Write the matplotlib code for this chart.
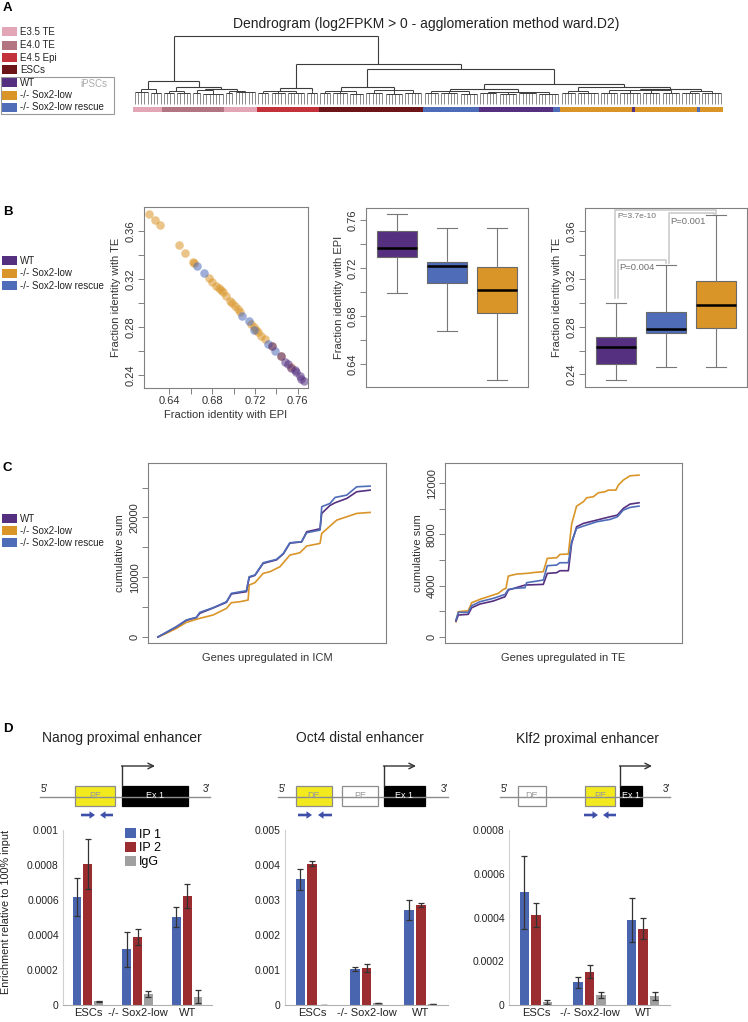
#Multi-panel figure: dendrogram, identity fractions, cumulative sums, ChIP-qPCR
#
import matplotlib
matplotlib.use('Agg')
import matplotlib.pyplot as plt
from matplotlib.patches import Rectangle, FancyArrow
import numpy as np

plt.rcParams['font.family'] = ['Liberation Sans', 'DejaVu Sans']

W, H = 748, 1022

# colours
c_e35 = '#E2A6B7'
c_e40 = '#B47582'
c_e45 = '#C3313A'
c_esc = '#6B1519'
c_wt = '#553080'
c_low = '#D99528'
c_res = '#4E6CB8'
c_ip1 = '#4A65B0'
c_ip2 = '#9B2D30'
c_igg = '#A0A0A0'

# ---------------- panel A data
legA_labels = ['E3.5 TE', 'E4.0 TE', 'E4.5 Epi', 'ESCs', 'WT', '-/- Sox2-low', '-/- Sox2-low rescue']
legA_colors = [c_e35, c_e40, c_e45, c_esc, c_wt, c_low, c_res]

# leaf colour bar (left to right): sample type, number of leaves
seg_colors = [c_e35, c_e40, c_e35, c_e45, c_esc, c_res, c_wt, c_res, c_low, c_wt, c_low, c_res, c_low]
seg_counts = [9, 19, 10, 19, 32, 17, 23, 2, 22, 1, 19, 1, 7]

# tree: internal node = (height, left, right); leaf group = (height, sub-group sizes, sub-group heights)
pink1 = (15, [5, 4], [12, 11])
mauve_a = (13, [4, 5], [11, 10.5])
mauve_b = (14, [3, 7], [11, 10])
pink2 = (13, [3, 7], [10.5, 11.5])
red = (16, (12.5, [4, 5, 6], [11, 10.5, 11]), (13, [4], [11]))
darkred = (17, (13, [4, 5, 5], [11, 10.5, 10]), (13.5, [6, 6, 6], [11, 10, 10.5]))
bluepurple = (15, (12.5, [5, 6, 6], [11, 10.5, 10]), (12, [6, 6, 6, 7], [10.5, 10, 10.5, 10]))
orange = (16.5, (13, [5, 7], [11, 10.5]), (15, (13.5, [6, 7, 6, 6], [11, 10.5, 11, 10.5]), (13, [6, 7], [11, 10.5])))
tree = (68, (23, pink1, (17, mauve_a, (15, mauve_b, pink2))),
        (40, red, (35, darkred, (20, bluepurple, orange))))

# ---------------- panel B data
grp_labels = ['WT', '-/- Sox2-low', '-/- Sox2-low rescue']
sc_low_x = [0.621, 0.627, 0.631, 0.649, 0.655, 0.662, 0.663, 0.677, 0.680, 0.684, 0.686, 0.688, 0.690,
            0.693, 0.697, 0.699, 0.701, 0.704, 0.706, 0.716, 0.719, 0.721, 0.723, 0.726, 0.729, 0.736,
            0.744, 0.754]
sc_low_y = [0.374, 0.369, 0.365, 0.348, 0.342, 0.334, 0.333, 0.321, 0.318, 0.314, 0.313, 0.311, 0.309,
            0.306, 0.302, 0.300, 0.298, 0.295, 0.293, 0.283, 0.280, 0.278, 0.276, 0.273, 0.270, 0.264,
            0.256, 0.247]
sc_res_x = [0.666, 0.672, 0.708, 0.714, 0.719, 0.732, 0.739]
sc_res_y = [0.331, 0.325, 0.289, 0.285, 0.278, 0.266, 0.260]
sc_wt_x = [0.736, 0.744, 0.748, 0.751, 0.754, 0.757, 0.758, 0.762, 0.763, 0.766]
sc_wt_y = [0.264, 0.256, 0.251, 0.249, 0.246, 0.244, 0.243, 0.239, 0.237, 0.235]

# box stats, order WT, rescue, Sox2-low
epi_lo = [0.699, 0.668, 0.627]
epi_q1 = [0.729, 0.708, 0.683]
epi_med = [0.737, 0.722, 0.702]
epi_q3 = [0.751, 0.725, 0.721]
epi_hi = [0.765, 0.753, 0.753]
te_lo = [0.235, 0.246, 0.246]
te_q1 = [0.249, 0.2745, 0.279]
te_med = [0.263, 0.278, 0.298]
te_q3 = [0.271, 0.2925, 0.318]
te_hi = [0.300, 0.332, 0.374]

# ---------------- panel C data (gene rank in %, cumulative sum)
icm_x_low = [0, 3.9, 8.7, 13.4, 19.7, 26.0, 32.3, 34.6, 38.6, 42.5, 43.0, 45.7, 49.6, 52.8, 57.5, 62.2,
             66.9, 70.1, 76.4, 77.2, 81.1, 84.3, 89.0, 93.7, 100]
icm_y_low = [0, 610, 1450, 2450, 3120, 3680, 4790, 5740, 5900, 6180, 8690, 9080, 10640, 10920, 11750,
             13700, 14090, 15210, 15650, 17320, 18550, 19550, 20110, 20670, 20830]
icm_x_res = [0, 3.9, 8.7, 13.4, 18.1, 19.7, 26.0, 32.3, 34.6, 41.7, 43.0, 45.7, 49.6, 55.9, 59.1, 62.2,
             67.7, 70.1, 76.4, 77.2, 81.1, 83.5, 89.0, 93.7, 100]
icm_y_res = [0, 780, 1730, 2840, 3290, 4120, 4900, 5900, 7300, 7740, 10080, 10360, 12420, 12980, 13980,
             15760, 15930, 17430, 17880, 21780, 22340, 23340, 23730, 25120, 25230]
icm_y_wt = [0, 760, 1700, 2800, 3250, 3960, 4850, 5800, 7200, 7580, 9970, 10300, 12310, 12900, 13900,
            15700, 15900, 17600, 18100, 20670, 22000, 22450, 23170, 24290, 24560]

te_x_low = [0, 1.3, 6.7, 8.6, 13.1, 18.6, 23.1, 25.9, 27.3, 28.6, 33.2, 38.6, 43.2, 47.7, 49.9, 55.0,
            56.8, 61.4, 63.2, 65.9, 69.6, 71.4, 75.0, 77.8, 81.4, 83.2, 87.4, 88.7, 91.4, 95.1, 100]
te_y_low = [1195, 1974, 2052, 2675, 2935, 3194, 3402, 3714, 3792, 4752, 4908, 4960, 5038, 5090, 6129,
            6181, 6440, 6467, 8804, 10206, 10544, 10856, 10933, 11245, 11323, 11453, 11453, 11842,
            12232, 12569, 12621]
te_x_res = [0, 1.3, 6.7, 8.6, 13.1, 20.4, 26.8, 28.6, 32.2, 37.7, 38.6, 47.7, 49.9, 55.0, 56.8, 61.4,
            63.2, 65.9, 69.6, 76.9, 84.2, 88.2, 91.4, 95.1, 100]
te_y_res = [1324, 1922, 1922, 2441, 2753, 3013, 3324, 3714, 3792, 3843, 4233, 4441, 5558, 5610, 5791,
            5791, 7427, 8466, 8648, 8986, 9167, 9375, 9894, 10102, 10206]
te_x_wt = [0, 1.3, 6.7, 8.6, 13.1, 20.4, 26.8, 28.6, 37.7, 47.7, 49.9, 55.0, 56.8, 61.4, 63.2, 65.9,
           69.6, 76.9, 84.2, 88.2, 91.4, 95.1, 100]
te_y_wt = [1247, 1714, 1766, 2285, 2571, 2805, 3142, 3662, 4051, 4103, 4960, 5012, 5168, 5168, 7297,
           8596, 8856, 9115, 9375, 9505, 10024, 10362, 10466]

# ---------------- panel D data
cells = ['ESCs', '-/- Sox2-low', 'WT']
nanog_ip1 = [0.000617, 0.000318, 0.000505]
nanog_ip1_err = [0.00011, 0.0001, 0.000057]
nanog_ip2 = [0.000806, 0.00039, 0.000623]
nanog_ip2_err = [0.000145, 0.000045, 0.00007]
nanog_igg = [0.000021, 0.000063, 0.000048]
nanog_igg_err = [0.000003, 0.000016, 0.000038]
oct4_ip1 = [0.00359, 0.00102, 0.00271]
oct4_ip1_err = [0.00029, 0.00006, 0.00029]
oct4_ip2 = [0.00404, 0.00105, 0.00286]
oct4_ip2_err = [0.00007, 0.00012, 0.00005]
oct4_igg = [0.0, 0.00005, 0.00002]
oct4_igg_err = [0, 0, 0]
klf2_ip1 = [0.000515, 0.000104, 0.000389]
klf2_ip1_err = [0.000167, 0.000026, 0.0001]
klf2_ip2 = [0.000413, 0.000152, 0.000349]
klf2_ip2_err = [0.000055, 0.00003, 0.000047]
klf2_igg = [0.000014, 0.000046, 0.000041]
klf2_igg_err = [0.000009, 0.000015, 0.000019]


fig = plt.figure(figsize=(W / 100, H / 100), dpi=100)

def px_axes(x0, y0, x1, y1):
    return fig.add_axes([x0 / W, 1 - y1 / H, (x1 - x0) / W, (y1 - y0) / H])

# overlay in pixel units for labels, legends and schematics
ov = fig.add_axes([0, 0, 1, 1])
ov.set_xlim(0, W)
ov.set_ylim(H, 0)
ov.axis('off')

for lab, yy in zip('ABCD', [8, 212, 468, 729]):
    ov.text(3, yy, lab, fontsize=9.5, fontweight='bold', va='center', ha='left')

def legend_rows(labels, colors, ys):
    for lab, c, yy in zip(labels, colors, ys):
        ov.add_patch(Rectangle((2, yy - 4.5), 15, 9, color=c, lw=0))
        ov.text(20, yy, lab, fontsize=7, va='center', ha='left', color='#222222')

legend_rows(legA_labels, legA_colors, [32, 45.5, 58, 70, 82.5, 95.5, 107.5])
ov.add_patch(Rectangle((1, 77), 113, 37, fill=False, edgecolor='#999999', lw=0.8))
ov.text(94, 84, 'iPSCs', fontsize=7, color='#AAAAAA', ha='center', va='center')
legend_rows(grp_labels, [c_wt, c_low, c_res], [261, 273.5, 286])
legend_rows(grp_labels, [c_wt, c_low, c_res], [518.5, 530.5, 543])

# ---------------- A: dendrogram
ov.text(426, 24, 'Dendrogram (log2FPKM > 0 - agglomeration method ward.D2)', fontsize=10,
        ha='center', va='center', color='#222222')
axA = px_axes(133, 30, 723, 115)
n_leaves = sum(seg_counts)
line_c = '#3C3C3C'
leaf_c = '#8A8A8A'

def draw_node(ax, node, pos):
    if isinstance(node[1], list):
        h, sizes, subh = node
        centers = []
        for n, sh in zip(sizes, subh):
            xs = np.arange(pos[0], pos[0] + n)
            pos[0] += n
            ax.vlines(xs, 0, sh, color=leaf_c, lw=0.7)
            ax.hlines(sh, xs[0], xs[-1], color=line_c, lw=0.7)
            cx = xs.mean()
            ax.vlines(cx, sh, h, color=line_c, lw=0.7)
            centers.append(cx)
        ax.hlines(h, centers[0], centers[-1], color=line_c, lw=0.7)
        return (centers[0] + centers[-1]) / 2, h
    h, left, right = node
    lx, lh = draw_node(ax, left, pos)
    rx, rh = draw_node(ax, right, pos)
    ax.vlines([lx, rx], [lh, rh], h, color=line_c, lw=0.8)
    ax.hlines(h, lx, rx, color=line_c, lw=0.8)
    return (lx + rx) / 2, h

draw_node(axA, tree, [0])
leaf_cols = []
for c, n in zip(seg_colors, seg_counts):
    leaf_cols += [c] * n
axA.bar(np.arange(n_leaves), 5, bottom=-8, width=1.0, color=leaf_cols, lw=0)
axA.set_xlim(-0.5, n_leaves - 0.5)
axA.set_ylim(-11, 74)
axA.axis('off')

# ---------------- B
def r_axes(ax):
    for s in ax.spines.values():
        s.set_color('#808080')
        s.set_linewidth(0.8)
    ax.tick_params(length=4, width=0.7, color='#808080', labelsize=8, labelcolor='#333333', pad=2)

def rot_y(ax):
    for t in ax.get_yticklabels():
        t.set_rotation(90)
        t.set_va('center')

axB1 = px_axes(144, 207, 308, 388)
axB1.scatter(sc_low_x, sc_low_y, s=38, color=c_low, alpha=0.55, lw=0)
axB1.scatter(sc_res_x, sc_res_y, s=38, color=c_res, alpha=0.55, lw=0)
axB1.scatter(sc_wt_x, sc_wt_y, s=38, color=c_wt, alpha=0.55, lw=0)
axB1.set_xlim(0.6164, 0.7695)
axB1.set_ylim(0.2294, 0.38)
axB1.set_xticks([0.64, 0.66, 0.68, 0.70, 0.72, 0.74, 0.76])
axB1.set_xticklabels(['0.64', '', '0.68', '', '0.72', '', '0.76'])
axB1.set_yticks([0.24, 0.26, 0.28, 0.30, 0.32, 0.34, 0.36])
axB1.set_yticklabels(['0.24', '', '0.28', '', '0.32', '', '0.36'])
r_axes(axB1)
rot_y(axB1)
axB1.set_xlabel('Fraction identity with EPI', fontsize=8, color='#333333', labelpad=3)
axB1.set_ylabel('Fraction identity with TE', fontsize=8, color='#333333', labelpad=3)

box_cols = [c_wt, c_res, c_low]

def boxes(ax, lo, q1, med, q3, hi):
    stats = [dict(whislo=a, q1=b, med=c, q3=d, whishi=e, fliers=[])
             for a, b, c, d, e in zip(lo, q1, med, q3, hi)]
    bp = ax.bxp(stats, positions=[1, 2, 3], widths=0.8, patch_artist=True, showfliers=False,
                capwidths=0.4,
                boxprops=dict(edgecolor='#6A6A6A', lw=0.8),
                medianprops=dict(color='black', lw=1.8),
                whiskerprops=dict(color='#777777', lw=0.8),
                capprops=dict(color='#777777', lw=0.8))
    for p, c in zip(bp['boxes'], box_cols):
        p.set_facecolor(c)
    ax.set_xlim(0.38, 3.62)
    ax.set_xticks([])

axB2 = px_axes(366, 208, 528, 387)
boxes(axB2, epi_lo, epi_q1, epi_med, epi_q3, epi_hi)
axB2.set_ylim(0.6212, 0.77)
axB2.set_yticks([0.64, 0.66, 0.68, 0.70, 0.72, 0.74, 0.76])
axB2.set_yticklabels(['0.64', '', '0.68', '', '0.72', '', '0.76'])
r_axes(axB2)
rot_y(axB2)
axB2.set_ylabel('Fraction identity with EPI', fontsize=8, color='#333333', labelpad=3)

axB3 = px_axes(585, 208, 747, 387)
boxes(axB3, te_lo, te_q1, te_med, te_q3, te_hi)
axB3.set_ylim(0.2295, 0.3795)
axB3.set_yticks([0.24, 0.26, 0.28, 0.30, 0.32, 0.34, 0.36])
axB3.set_yticklabels(['0.24', '', '0.28', '', '0.32', '', '0.36'])
r_axes(axB3)
rot_y(axB3)
axB3.set_ylabel('Fraction identity with TE', fontsize=8, color='#333333', labelpad=3)
br_c = '#CCCCCC'
axB3.plot([0.98, 0.98, 3.0, 3.0], [0.304, 0.3775, 0.3775, 0.3745], color=br_c, lw=1.2)
axB3.plot([1.03, 1.03, 2.0, 2.0], [0.304, 0.3358, 0.3358, 0.333], color=br_c, lw=1.2)
axB3.plot([2.05, 2.05, 2.95, 2.95], [0.333, 0.3753, 0.3753, 0.3745], color=br_c, lw=1.2)
axB3.text(1.02, 0.3725, 'P=3.7e-10', fontsize=6, color='#707070', va='center')
axB3.text(1.07, 0.330, 'P=0.004', fontsize=6.8, color='#707070', va='center')
axB3.text(2.08, 0.3686, 'P=0.001', fontsize=6.8, color='#707070', va='center')

# ---------------- C
axC1 = px_axes(148, 463, 386, 643)
axC1.plot(icm_x_low, icm_y_low, color=c_low, lw=1.2)
axC1.plot(icm_x_res, icm_y_wt, color=c_wt, lw=1.2)
axC1.plot(icm_x_res, icm_y_res, color=c_res, lw=1.2)
axC1.set_xlim(-4.7, 107.5)
axC1.set_ylim(-1003, 29097)
axC1.set_xticks([])
axC1.set_yticks([0, 5000, 10000, 15000, 20000, 25000])
axC1.set_yticklabels(['0', '', '10000', '', '20000', ''])
r_axes(axC1)
rot_y(axC1)
axC1.set_ylabel('cumulative sum', fontsize=8, color='#333333', labelpad=3)
axC1.set_xlabel('Genes upregulated in ICM', fontsize=8, color='#333333', labelpad=7)

axC2 = px_axes(445, 463, 682, 643)
axC2.plot(te_x_low, te_y_low, color=c_low, lw=1.2)
axC2.plot(te_x_wt, te_y_wt, color=c_wt, lw=1.2)
axC2.plot(te_x_res, te_y_res, color=c_res, lw=1.2)
axC2.set_xlim(-6, 123.5)
axC2.set_ylim(-468, 13567)
axC2.set_xticks([])
axC2.set_yticks([0, 2000, 4000, 6000, 8000, 10000, 12000])
axC2.set_yticklabels(['0', '', '4000', '', '8000', '', '12000'])
r_axes(axC2)
rot_y(axC2)
axC2.set_ylabel('cumulative sum', fontsize=8, color='#333333', labelpad=3)
axC2.set_xlabel('Genes upregulated in TE', fontsize=8, color='#333333', labelpad=7)

# ---------------- D: schematics
def gene(x0, x1, boxes_, tss, tss_end, primers):
    yc = 797
    ov.plot([x0, x1], [yc, yc], color='#8C8C8C', lw=1)
    ov.text(x0 + 4, 789, '5\u2032', fontsize=7, ha='center', va='center', color='#222222')
    ov.text(x1 - 4, 789, '3\u2032', fontsize=7, ha='center', va='center', color='#222222')
    for bx0, bx1, lab, fc, tc in boxes_:
        ec = 'black' if fc == 'black' else '#8C8C8C'
        ov.add_patch(Rectangle((bx0, 786), bx1 - bx0, 20, facecolor=fc, edgecolor=ec, lw=0.9))
        ov.text((bx0 + bx1) / 2, 796, lab, fontsize=6.5, color=tc, ha='center', va='center')
    ov.plot([tss, tss], [786, 766], color='#333333', lw=1)
    ov.annotate('', xy=(tss_end, 766), xytext=(tss - 0.5, 766),
                arrowprops=dict(arrowstyle='->', color='#333333', lw=1, shrinkA=0, shrinkB=0))
    for px0, px1 in primers:
        ov.add_patch(FancyArrow(px0, 815, px1 - px0, 0, width=2.6, head_width=7.5, head_length=5.5,
                                length_includes_head=True, color='#3E4FAA', lw=0))

yel = '#F2EA1E'
gene(40, 210, [(75, 115, 'PE', yel, '#999999'), (122, 188, 'Ex 1', 'black', 'white')],
     122, 155, [(81, 95), (113, 100)])
gene(278, 448, [(296, 332, 'DE', yel, '#999999'), (342, 378, 'PE', 'white', '#999999'),
                (384, 425, 'Ex 1', 'black', 'white')], 384, 416, [(298, 312), (332, 318)])
gene(500, 670, [(518, 546, 'DE', 'white', '#999999'), (585, 615, 'PE', yel, '#999999'),
                (620, 642, 'Ex 1', 'black', 'white')], 620, 652, [(584, 598), (616, 603)])

ov.text(122, 738, 'Nanog proximal enhancer', fontsize=10, ha='center', va='center', color='#222222')
ov.text(360, 738, 'Oct4 distal enhancer', fontsize=10, ha='center', va='center', color='#222222')
ov.text(588, 739, 'Klf2 proximal enhancer', fontsize=10, ha='center', va='center', color='#222222')

# ---------------- D: bar charts
def chip(ax, ip1, e1, ip2, e2, igg, e3, ymax, yticks, ylabels):
    x = np.arange(len(cells))
    ekw = dict(ecolor='#333333', elinewidth=0.9, capthick=0.9)
    w = 0.176
    ax.bar(x - 0.216, ip1, w, yerr=e1, capsize=2.5, color=c_ip1, error_kw=ekw, label='IP 1')
    ax.bar(x, ip2, w, yerr=e2, capsize=2.5, color=c_ip2, error_kw=ekw, label='IP 2')
    ax.bar(x + 0.216, igg, w, yerr=e3, capsize=2.5, color=c_igg, error_kw=ekw, label='IgG')
    ax.set_xlim(-0.5, 2.5)
    ax.set_ylim(0, ymax)
    ax.set_xticks(x)
    ax.set_xticklabels(cells)
    ax.set_yticks(yticks)
    ax.set_yticklabels(ylabels)
    ax.tick_params(length=0, labelsize=7.5, labelcolor='#222222', pad=3)
    ax.tick_params(axis='x', labelsize=8, pad=2)
    ax.spines['top'].set_visible(False)
    ax.spines['right'].set_visible(False)
    ax.spines['left'].set_color('#D0D0D0')
    ax.spines['bottom'].set_color('#B0B0B0')
    ax.spines['left'].set_linewidth(0.8)
    ax.spines['bottom'].set_linewidth(0.8)
    ax.patch.set_alpha(0)

axD1 = px_axes(63, 830, 212, 1005)
chip(axD1, nanog_ip1, nanog_ip1_err, nanog_ip2, nanog_ip2_err, nanog_igg, nanog_igg_err, 0.001,
     [0, 0.0002, 0.0004, 0.0006, 0.0008, 0.001], ['0', '0.0002', '0.0004', '0.0006', '0.0008', '0.001'])
axD1.set_ylabel('Enrichment relative to 100% input', fontsize=7.8, color='#222222')
axD1.yaxis.set_label_coords(-0.35, 0.53)
axD1.legend(loc='upper left', bbox_to_anchor=(0.38, 1.04), frameon=False, fontsize=9,
            handlelength=0.9, handleheight=0.9, handletextpad=0.25, labelspacing=0.1, borderaxespad=0)

axD2 = px_axes(285, 830, 448, 1005)
chip(axD2, oct4_ip1, oct4_ip1_err, oct4_ip2, oct4_ip2_err, oct4_igg, oct4_igg_err, 0.005,
     [0, 0.001, 0.002, 0.003, 0.004, 0.005], ['0', '0.001', '0.002', '0.003', '0.004', '0.005'])

axD3 = px_axes(509, 830, 670, 1005)
chip(axD3, klf2_ip1, klf2_ip1_err, klf2_ip2, klf2_ip2_err, klf2_igg, klf2_igg_err, 0.0008,
     [0, 0.0002, 0.0004, 0.0006, 0.0008], ['0', '0.0002', '0.0004', '0.0006', '0.0008'])

fig.savefig('out.png', dpi=100)
